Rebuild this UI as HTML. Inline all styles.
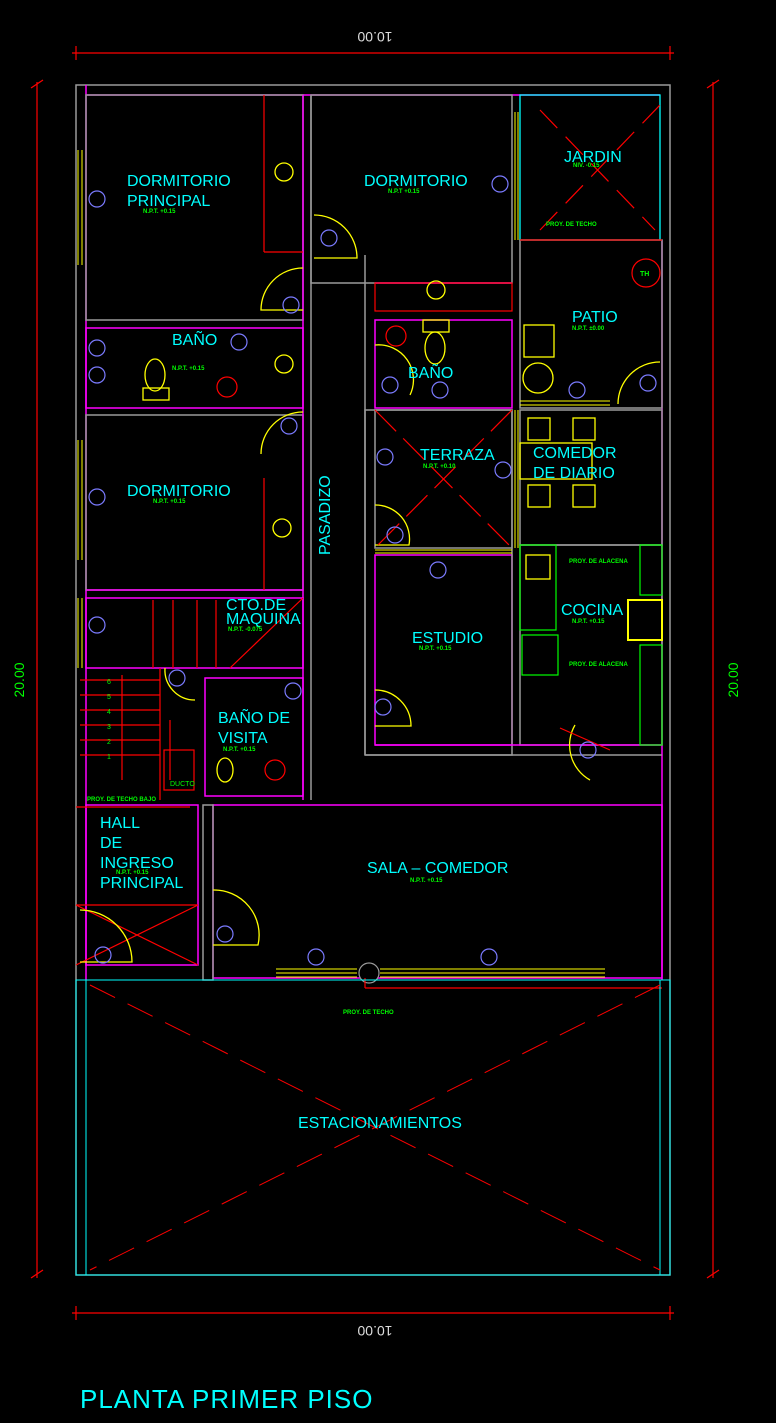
<!DOCTYPE html>
<html><head><meta charset="utf-8"><style>
html,body{margin:0;padding:0;background:#000;}
svg{display:block;}
text{font-family:"Liberation Sans",sans-serif;}
.c{fill:#00ffff;font-size:16px;}
.g{fill:#00ff00;font-size:6px;font-weight:bold;}
.w{fill:none;stroke:#9a9a9a;stroke-width:1.5;}
.m{fill:none;stroke:#ff00ff;stroke-width:1.5;}
.r{fill:none;stroke:#ff0000;stroke-width:1.2;}
.y{fill:none;stroke:#ffff00;stroke-width:1.3;}
.tag{fill:none;stroke:#7b7bff;stroke-width:1.2;}
.tt{fill:#8888ff;font-size:6px;font-weight:bold;}
</style></head><body>
<svg width="776" height="1423" viewBox="0 0 776 1423" xmlns="http://www.w3.org/2000/svg">
<rect width="776" height="1423" fill="#000"/>
<!-- dimension lines -->
<g stroke="#ff0000" stroke-width="1.2">
<line x1="72" y1="53" x2="674" y2="53"/><line x1="76" y1="46" x2="76" y2="60"/><line x1="670" y1="46" x2="670" y2="60"/>
<line x1="72" y1="1313" x2="674" y2="1313"/><line x1="76" y1="1306" x2="76" y2="1320"/><line x1="670" y1="1306" x2="670" y2="1320"/>
<line x1="37" y1="82" x2="37" y2="1278"/><line x1="31" y1="88" x2="43" y2="80"/><line x1="31" y1="1278" x2="43" y2="1270"/>
<line x1="713" y1="82" x2="713" y2="1278"/><line x1="707" y1="88" x2="719" y2="80"/><line x1="707" y1="1278" x2="719" y2="1270"/>
</g>
<text transform="translate(375,32) rotate(180)" text-anchor="middle" fill="#ddd" font-size="14">10.00</text>
<text transform="translate(375,1326) rotate(180)" text-anchor="middle" fill="#ddd" font-size="14">10.00</text>
<text transform="translate(24,680) rotate(-90)" text-anchor="middle" fill="#00ff00" font-size="14">20.00</text>
<text transform="translate(738,680) rotate(-90)" text-anchor="middle" fill="#00ff00" font-size="14">20.00</text>

<!-- outer -->
<rect x="76" y="85" width="594" height="1190" class="w"/>
<line x1="86" y1="95" x2="660" y2="95" class="m"/>
<line x1="86" y1="85" x2="86" y2="980" class="m"/>
<line x1="662" y1="240" x2="662" y2="980" class="m"/>
<!-- rooms walls -->
<rect x="86" y="95" width="217" height="225" class="w"/>
<rect x="311" y="95" width="201" height="188" class="w"/>
<rect x="520" y="95" width="140" height="145" fill="none" stroke="#00ffff" stroke-width="1.3"/>
<rect x="520" y="240" width="142" height="168" class="w"/>
<rect x="86" y="328" width="217" height="80" class="m"/>
<rect x="86" y="415" width="217" height="175" class="w"/>
<line x1="86" y1="590" x2="303" y2="590" class="m"/>
<rect x="375" y="320" width="137" height="88" class="m"/>
<rect x="375" y="410" width="137" height="138" class="w"/>
<rect x="520" y="410" width="142" height="135" class="w"/>
<rect x="375" y="555" width="137" height="190" class="m"/>
<rect x="365" y="410" width="147" height="345" class="w"/>
<rect x="520" y="545" width="142" height="200" class="w"/>
<line x1="365" y1="755" x2="662" y2="755" class="w"/>
<line x1="375" y1="745" x2="662" y2="745" class="m"/>
<rect x="213" y="805" width="449" height="173" class="m"/>
<rect x="203" y="805" width="10" height="175" class="w"/>
<rect x="86" y="805" width="112" height="160" class="m"/>
<line x1="311" y1="95" x2="311" y2="800" class="w"/>
<line x1="303" y1="95" x2="303" y2="800" class="m"/>
<line x1="365" y1="255" x2="365" y2="755" class="w"/>
<line x1="375" y1="283" x2="512" y2="283" class="m"/>
<rect x="375" y="283" width="137" height="28" class="r"/>
<!-- stairs area -->
<rect x="86" y="598" width="217" height="70" class="m"/>
<rect x="205" y="678" width="98" height="118" class="m"/>
<g class="r">
<line x1="80" y1="680" x2="160" y2="680"/><line x1="80" y1="695" x2="160" y2="695"/><line x1="80" y1="710" x2="160" y2="710"/>
<line x1="80" y1="725" x2="160" y2="725"/><line x1="80" y1="740" x2="160" y2="740"/><line x1="80" y1="755" x2="160" y2="755"/>
<line x1="122" y1="675" x2="122" y2="780"/><line x1="160" y1="668" x2="160" y2="800"/>
<line x1="153" y1="600" x2="153" y2="668"/><line x1="173" y1="600" x2="173" y2="668"/><line x1="197" y1="600" x2="197" y2="668"/><line x1="216" y1="600" x2="216" y2="668"/>
<line x1="230" y1="668" x2="303" y2="598"/>
<line x1="76" y1="807" x2="190" y2="807"/>
<line x1="76" y1="905" x2="198" y2="905"/><line x1="76" y1="905" x2="198" y2="965"/><line x1="198" y1="905" x2="76" y2="965"/>
<line x1="170" y1="720" x2="170" y2="780"/>
<rect x="164" y="750" width="30" height="40"/>
</g>
<g fill="#00ff00" font-size="7"><text x="107" y="684">6</text><text x="107" y="699">5</text><text x="107" y="714">4</text><text x="107" y="729">3</text><text x="107" y="744">2</text><text x="107" y="759">1</text></g>
<!-- windows yellow -->
<g stroke="#ffff00" stroke-width="1">
<line x1="78" y1="150" x2="78" y2="265"/><line x1="82" y1="150" x2="82" y2="265"/>
<line x1="78" y1="440" x2="78" y2="560"/><line x1="82" y1="440" x2="82" y2="560"/>
<line x1="78" y1="598" x2="78" y2="668"/><line x1="82" y1="598" x2="82" y2="668"/>
<line x1="515" y1="112" x2="515" y2="240"/><line x1="518" y1="112" x2="518" y2="240"/>
<line x1="515" y1="410" x2="515" y2="548"/><line x1="518" y1="410" x2="518" y2="548"/>
<line x1="375" y1="550" x2="512" y2="550"/><line x1="375" y1="553" x2="512" y2="553"/>
<line x1="520" y1="405" x2="610" y2="405"/><line x1="520" y1="401" x2="610" y2="401"/>
<line x1="276" y1="969" x2="357" y2="969"/><line x1="276" y1="973" x2="357" y2="973"/><line x1="276" y1="977" x2="357" y2="977"/>
<line x1="380" y1="969" x2="605" y2="969"/><line x1="380" y1="973" x2="605" y2="973"/><line x1="380" y1="977" x2="605" y2="977"/>
</g>
<circle cx="369" cy="973" r="10" fill="#000" stroke="#9a9a9a" stroke-width="1.2"/>
<!-- doors -->
<g class="y">
<path d="M303 268 A42 42 0 0 0 261 310 L303 310"/>
<path d="M314 215 A43 43 0 0 1 357 258 L314 258"/>
<path d="M303 412 A42 42 0 0 0 261 454"/>
<path d="M660 362 A42 42 0 0 0 618 404"/>
<path d="M375 690 A36 36 0 0 1 411 726 L375 726"/>
<path d="M375 505 A34 34 0 0 1 409 545 L375 545"/>
<path d="M80 910 A52 52 0 0 1 132 962 L80 962"/>
<path d="M213 890 A45 45 0 0 1 258 945 L213 945"/>
<path d="M165 668 A30 30 0 0 0 195 700"/>
<path d="M375 345 A35 35 0 0 1 410 395"/>
<path d="M575 725 A40 40 0 0 0 590 780"/>
</g>
<!-- fixtures -->
<g class="y">
<rect x="528" y="418" width="22" height="22"/><rect x="573" y="418" width="22" height="22"/>
<rect x="528" y="485" width="22" height="22"/><rect x="573" y="485" width="22" height="22"/>
<rect x="520" y="443" width="72" height="36"/>
<rect x="524" y="325" width="30" height="32"/><circle cx="538" cy="378" r="15"/>
<ellipse cx="155" cy="375" rx="10" ry="16"/><rect x="143" y="388" width="26" height="12"/>
<ellipse cx="435" cy="348" rx="10" ry="16"/><rect x="423" y="320" width="26" height="12"/>
<rect x="628" y="600" width="34" height="40" stroke-width="2"/>
<rect x="526" y="555" width="24" height="24"/><ellipse cx="225" cy="770" rx="8" ry="12"/>
<circle cx="284" cy="172" r="9"/><circle cx="436" cy="290" r="9"/><circle cx="284" cy="364" r="9"/><circle cx="282" cy="528" r="9"/>
</g>
<g stroke="#00ff00" fill="none" stroke-width="1.2"><rect x="520" y="545" width="36" height="85"/><rect x="522" y="635" width="36" height="40"/><rect x="640" y="545" width="22" height="50"/><rect x="640" y="645" width="22" height="100"/></g>
<circle cx="646" cy="273" r="14" class="r"/><text x="640" y="276" fill="#00ff00" font-size="7" font-weight="bold">TH</text>
<circle cx="227" cy="387" r="10" class="r"/><circle cx="396" cy="336" r="10" class="r"/><circle cx="275" cy="770" r="10" class="r"/>
<!-- red lines misc -->
<g class="r">
<line x1="264" y1="95" x2="264" y2="252"/><line x1="264" y1="252" x2="303" y2="252"/>
<line x1="264" y1="478" x2="264" y2="590"/>
<line x1="375" y1="410" x2="512" y2="548" stroke-dasharray="30,10"/><line x1="512" y1="410" x2="375" y2="548" stroke-dasharray="30,10"/>
<line x1="520" y1="240" x2="662" y2="240"/>
<line x1="540" y1="230" x2="660" y2="105" stroke-dasharray="25,12"/><line x1="540" y1="110" x2="655" y2="230" stroke-dasharray="25,12"/>
<line x1="365" y1="988" x2="662" y2="988"/><line x1="365" y1="978" x2="365" y2="988"/>
<line x1="560" y1="728" x2="610" y2="750"/>
</g>
<!-- parking -->
<rect x="76" y="980" width="594" height="295" fill="none" stroke="#00ffff" stroke-width="1"/>
<line x1="86" y1="980" x2="86" y2="1275" stroke="#00ffff"/><line x1="660" y1="980" x2="660" y2="1275" stroke="#00ffff"/>
<g stroke="#ff0000" stroke-width="1" stroke-dasharray="28,14">
<line x1="90" y1="985" x2="660" y2="1270"/><line x1="660" y1="985" x2="90" y2="1270"/></g>
<!-- tags -->
<g>
<circle cx="97" cy="199" r="8" class="tag"/><circle cx="500" cy="184" r="8" class="tag"/><circle cx="329" cy="238" r="8" class="tag"/>
<circle cx="291" cy="305" r="8" class="tag"/><circle cx="97" cy="348" r="8" class="tag"/><circle cx="97" cy="375" r="8" class="tag"/>
<circle cx="239" cy="342" r="8" class="tag"/><circle cx="289" cy="426" r="8" class="tag"/><circle cx="97" cy="497" r="8" class="tag"/>
<circle cx="97" cy="625" r="8" class="tag"/><circle cx="390" cy="385" r="8" class="tag"/><circle cx="440" cy="390" r="8" class="tag"/>
<circle cx="577" cy="390" r="8" class="tag"/><circle cx="648" cy="383" r="8" class="tag"/><circle cx="385" cy="457" r="8" class="tag"/>
<circle cx="503" cy="470" r="8" class="tag"/><circle cx="395" cy="535" r="8" class="tag"/><circle cx="438" cy="570" r="8" class="tag"/>
<circle cx="383" cy="707" r="8" class="tag"/><circle cx="177" cy="678" r="8" class="tag"/><circle cx="293" cy="691" r="8" class="tag"/>
<circle cx="103" cy="955" r="8" class="tag"/><circle cx="225" cy="934" r="8" class="tag"/><circle cx="316" cy="957" r="8" class="tag"/>
<circle cx="489" cy="957" r="8" class="tag"/><circle cx="588" cy="750" r="8" class="tag"/>
</g>
<!-- room labels -->
<text class="c" x="127" y="186">DORMITORIO</text><text class="c" x="127" y="206">PRINCIPAL</text><text class="g" x="143" y="213">N.P.T. +0.15</text>
<text class="c" x="364" y="186">DORMITORIO</text><text class="g" x="388" y="193">N.P.T +0.15</text>
<text class="c" x="564" y="162">JARDIN</text><text class="g" x="573" y="167">NIV. -0.15</text>
<text class="g" x="546" y="226">PROY. DE TECHO</text>
<text class="c" x="172" y="345">BAÑO</text><text class="g" x="172" y="370">N.P.T. +0.15</text>
<text class="c" x="408" y="378">BAÑO</text>
<text class="c" x="572" y="322">PATIO</text><text class="g" x="572" y="330">N.P.T. ±0.00</text>
<text class="c" x="127" y="496">DORMITORIO</text><text class="g" x="153" y="503">N.P.T. +0.15</text>
<text class="c" transform="translate(330,555) rotate(-90)">PASADIZO</text>
<text class="c" x="420" y="460" font-size="13">TERRAZA</text><text class="g" x="423" y="468">N.P.T. +0.10</text>
<text class="c" x="533" y="458">COMEDOR</text><text class="c" x="533" y="478">DE DIARIO</text>
<text class="c" x="226" y="610" font-size="12">CTO.DE</text><text class="c" x="226" y="624" font-size="12">MAQUINA</text><text class="g" x="228" y="631">N.P.T. -0.075</text>
<text class="c" x="561" y="615">COCINA</text><text class="g" x="572" y="623">N.P.T. +0.15</text>
<text class="g" x="569" y="563">PROY. DE ALACENA</text><text class="g" x="569" y="666">PROY. DE ALACENA</text>
<text class="c" x="412" y="643">ESTUDIO</text><text class="g" x="419" y="650">N.P.T. +0.15</text>
<text class="c" x="218" y="723">BAÑO DE</text><text class="c" x="218" y="743">VISITA</text><text class="g" x="223" y="751">N.P.T. +0.15</text>
<text class="g" x="87" y="801">PROY. DE TECHO BAJO</text><text fill="#00ff00" font-size="7" x="170" y="786">DUCTO</text>
<text class="c" x="100" y="828">HALL</text><text class="c" x="100" y="848">DE</text><text class="c" x="100" y="868">INGRESO</text><text class="c" x="100" y="888">PRINCIPAL</text>
<text class="g" x="116" y="874">N.P.T. +0.15</text>
<text class="c" x="367" y="873">SALA  –  COMEDOR</text><text class="g" x="410" y="882">N.P.T. +0.15</text>
<text class="g" x="343" y="1014">PROY. DE TECHO</text>
<text class="c" x="298" y="1128">ESTACIONAMIENTOS</text>
<text x="80" y="1408" fill="#00ffff" font-size="26" style="letter-spacing:1px">PLANTA PRIMER PISO</text>
</svg>
</body></html>
